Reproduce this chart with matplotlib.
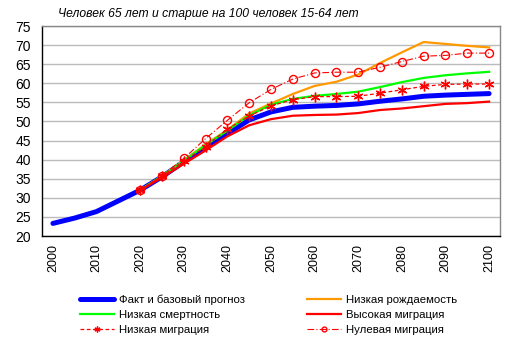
import matplotlib
matplotlib.use("Agg")
import matplotlib.pyplot as plt

years_hist = [2000, 2005, 2010, 2015, 2020]
years = [2020, 2025, 2030, 2035, 2040, 2045, 2050, 2055, 2060, 2065, 2070,
         2075, 2080, 2085, 2090, 2095, 2100]

base_hist = [23.3, 24.7, 26.4, 29.2, 32.0]
base = [32.0, 35.5, 39.4, 43.2, 46.8, 50.4, 52.5, 53.7, 54.0, 54.2, 54.6,
        55.3, 55.9, 56.6, 56.9, 57.1, 57.3]
low_fert = [32.0, 35.7, 39.8, 44.0, 47.8, 52.1, 54.7, 57.2, 59.3, 60.4, 62.3,
            65.3, 68.1, 70.8, 70.3, 69.8, 69.4]
low_mort = [32.0, 35.7, 39.7, 43.8, 47.6, 51.6, 54.4, 55.9, 56.7, 57.2, 57.8,
            59.0, 60.3, 61.4, 62.1, 62.6, 63.0]
high_migr = [32.0, 35.3, 38.9, 42.4, 46.1, 49.0, 50.6, 51.5, 51.7, 51.8, 52.2,
             53.0, 53.4, 54.0, 54.6, 54.8, 55.2]
low_migr = [32.0, 35.7, 39.6, 43.4, 48.0, 51.4, 54.1, 55.7, 56.5, 56.5, 56.6,
            57.4, 58.3, 59.2, 59.7, 59.8, 59.8]
zero_migr = [32.0, 35.8, 40.3, 45.5, 50.3, 54.9, 58.4, 61.1, 62.7, 62.9, 62.9,
             64.2, 65.7, 67.1, 67.3, 67.9, 67.9]

labels = ["Факт и базовый прогноз", "Низкая смертность", "Низкая миграция",
          "Низкая рождаемость", "Высокая миграция", "Нулевая миграция"]
title = "Человек 65 лет и старше на 100 человек 15-64 лет"
xticks = list(range(2000, 2101, 10))
yticks = list(range(20, 76, 5))

plt.rcParams['font.family'] = ['Liberation Sans', 'DejaVu Sans']

fig = plt.figure(figsize=(5.14, 3.54), dpi=100)
ax = fig.add_axes([42/514, 1-236/354, (500-42)/514, (236-26)/354])

l_base, = ax.plot(years_hist + years[1:], base_hist + base[1:], color='#0000FF',
                  lw=3.6, solid_capstyle='round', zorder=3)
l_mort, = ax.plot(years, low_mort, color='#00FF00', lw=1.6, zorder=4)
l_lmig, = ax.plot(years, low_migr, color='#FF0000', lw=0.9, ls=(0, (3, 2)),
                  marker=(6, 2, 0), ms=7, mew=1.0, zorder=5)
l_fert, = ax.plot(years, low_fert, color='#FF9900', lw=1.6, zorder=3.5)
l_hmig, = ax.plot(years, high_migr, color='#FF0000', lw=1.6, zorder=4)
l_zmig, = ax.plot(years, zero_migr, color='#FF0000', lw=0.8, ls=(0, (6, 2, 1, 2)),
                  marker='o', ms=5.8, mfc='none', mew=1.0, zorder=5)

ax.set_xlim(1997.5, 2102.5)
ax.set_ylim(20, 75)
ax.set_yticks(yticks)
ax.set_xticks(xticks)
ax.set_xticklabels([str(x) for x in xticks], rotation=90, fontsize=9)
ax.tick_params(axis='y', labelsize=10, length=0, pad=8)
ax.tick_params(axis='x', length=0, pad=6)
ax.yaxis.grid(True, color='#BBBBBB', lw=1.0)
ax.set_axisbelow(True)
for s in ['top', 'right']:
    ax.spines[s].set_color('#888888')
    ax.spines[s].set_linewidth(1.0)
for s in ['left', 'bottom']:
    ax.spines[s].set_color('black')
    ax.spines[s].set_linewidth(1.0)

fig.text(58/514, 1-14/354, title, fontsize=8.7, style='italic', va='center', ha='left')

handles = [l_base, l_mort, l_lmig, l_fert, l_hmig, l_zmig]
leg = fig.legend(handles, labels, ncol=2, loc='upper left',
                 bbox_to_anchor=(80/514, 1-295/354), frameon=False,
                 fontsize=8.2, handlelength=3.0, handletextpad=0.4,
                 columnspacing=5.45, labelspacing=0.42, borderaxespad=0,
                 borderpad=0, markerscale=0.6)

fig.savefig("out.png", dpi=100)
